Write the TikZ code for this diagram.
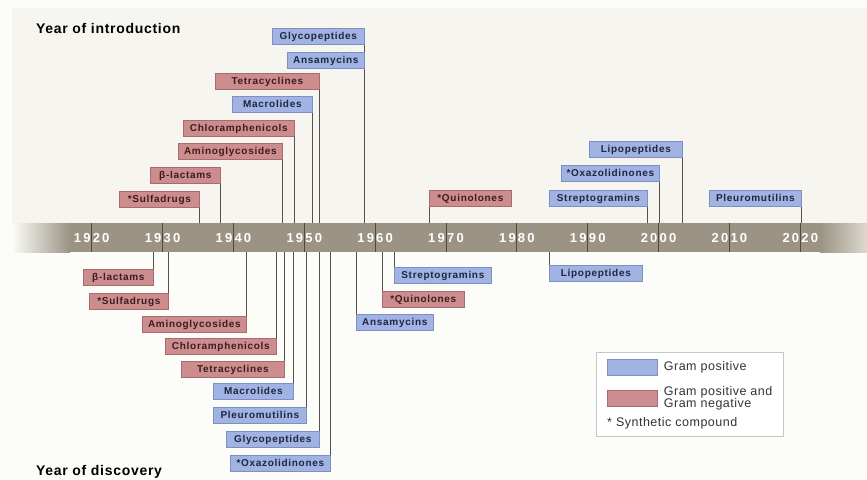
\documentclass[tikz,border=0pt]{standalone}
\usepackage{fontspec}
\setmainfont{Liberation Sans}
\newfontfamily\labfont[LetterSpace=7]{Liberation Sans}
\newfontfamily\yrfont[LetterSpace=17]{Liberation Sans}
\newfontfamily\ttlfont[LetterSpace=5]{Liberation Sans}
\newfontfamily\legfont[LetterSpace=4]{Liberation Sans}
\usepackage{tikz}
\usetikzlibrary{positioning}

\definecolor{paper}{HTML}{FCFCF9}
\definecolor{topbg}{HTML}{F7F5EF}
\definecolor{bandcol}{HTML}{9B9484}
\definecolor{bandend}{HTML}{DDD9CF}
\definecolor{tickcol}{HTML}{4F4A3F}
\definecolor{connline}{HTML}{55514B}
\definecolor{bluefill}{HTML}{A0B3E2}
\definecolor{blueline}{HTML}{7D90C6}
\definecolor{bluetext}{HTML}{1E2640}
\definecolor{redfill}{HTML}{CD8D8F}
\definecolor{redline}{HTML}{A86B6E}
\definecolor{redtext}{HTML}{3B1D1E}

\begin{document}
\begin{tikzpicture}[x=1pt, y=-1pt,
    lab/.style={draw, line width=0.7pt, inner sep=0pt, minimum height=16pt,
        text height=7.3pt, text depth=1.8pt,
        font=\labfont\bfseries\fontsize{10}{11}\selectfont},
    gpos/.style={lab, fill=bluefill, draw=blueline, text=bluetext},
    gneg/.style={lab, fill=redfill, draw=redline, text=redtext},
    conn/.style={draw=connline, line width=0.8pt},
    yearlab/.style={text=white, inner sep=0pt, font=\yrfont\bfseries\fontsize{13}{13}\selectfont},
    title/.style={inner sep=0pt, anchor=base west, font=\ttlfont\bfseries\fontsize{14}{14}\selectfont},
    legtext/.style={inner sep=0pt, text=black!80, align=left, font=\legfont\fontsize{12.5}{12.5}\selectfont},
    swatch/.style={draw, line width=0.7pt, minimum width=50pt, minimum height=16pt, inner sep=0pt}]

    \useasboundingbox (0,0) rectangle (867,479);
    \fill[paper] (0,0) rectangle (867,479);
    \fill[topbg] (12,8) rectangle (867,223);

    \node[fill=bandcol, inner sep=0pt, minimum width=855pt, minimum height=29pt, anchor=north west] (axis) at (12,223) {};
    \shade[left color=paper, right color=bandcol] (12,223) rectangle (70,252);
    \shade[left color=bandcol, right color=bandend] (820,223) rectangle (867,252);

    \foreach \yr [count=\k] in {1920,1930,...,2020} {
        \pgfmathsetmacro{\x}{91.7 + (\yr - 1920)*7.086}
        \draw[tickcol, line width=1pt] (\x,223) -- (\x,252);
        \node[yearlab] (Y\k) at (\x,237.8) {\yr};
    }

    \node[title] (intro) at (36,33) {Year of introduction};
    \node[title] (disc) at (36,475.5) {Year of discovery};

    \foreach \i/\txt/\l/\r/\t/\kind/\side in {
            1/Glycopeptides/272/364/28/gpos/east,
            2/Ansamycins/287/364/52/gpos/east,
            3/Tetracyclines/215/319/73/gneg/east,
            4/Macrolides/232/312/96/gpos/east,
            5/Chloramphenicols/183/294/120/gneg/east,
            6/Aminoglycosides/178/282/143/gneg/east,
            7/β-lactams/150/220/167/gneg/east,
            8/*Sulfadrugs/119/199/191/gneg/east,
            9/*Quinolones/429/511/190/gneg/west,
            10/Streptogramins/549/647/190/gpos/east,
            11/*Oxazolidinones/561/659/165/gpos/east,
            12/Lipopeptides/589/682/141/gpos/east,
            13/Pleuromutilins/709/801/190/gpos/east} {
        \pgfmathsetmacro{\w}{\r - \l}
        \node[\kind, minimum width=\w pt, anchor=north west] (T\i) at (\l,\t) {\txt};
        \draw[conn] (T\i.south \side) -- (T\i.south \side |- axis.north);
    }

    \foreach \i/\txt/\l/\r/\t/\kind/\side in {
            1/β-lactams/83/153/269/gneg/east,
            2/*Sulfadrugs/89/168/293/gneg/east,
            3/Aminoglycosides/142/246/316/gneg/east,
            4/Chloramphenicols/165/276/338/gneg/east,
            5/Tetracyclines/181/284/361/gneg/east,
            6/Macrolides/213/293/383/gpos/east,
            7/Pleuromutilins/213/306/407/gpos/east,
            8/Glycopeptides/226/319/431/gpos/east,
            9/*Oxazolidinones/230/330/455/gpos/east,
            10/Ansamycins/356/433/314/gpos/west,
            11/*Quinolones/382/464/291/gneg/west,
            12/Streptogramins/394/491/267/gpos/west,
            13/Lipopeptides/549/642/265/gpos/west} {
        \pgfmathsetmacro{\w}{\r - \l}
        \node[\kind, minimum width=\w pt, anchor=north west] (B\i) at (\l,\t) {\txt};
        \draw[conn] (B\i.north \side) -- (B\i.north \side |- axis.south);
    }

    \node[draw=black!22, fill=white, line width=0.7pt, minimum width=187pt, minimum height=84pt, anchor=north west] (legend) at (596,352) {};
    \node[swatch, fill=bluefill, draw=blueline, anchor=north west] (sw1) at (607,359) {};
    \node[swatch, fill=redfill, draw=redline, anchor=north west] (sw2) at (607,390) {};
    \node[legtext, right=6pt of sw1] (lt1) {Gram positive};
    \node[legtext, right=6pt of sw2] (lt2) {Gram positive and\\Gram negative};
    \node[legtext, anchor=west] (lt3) at (607,423) {* Synthetic compound};
\end{tikzpicture}
\end{document}
